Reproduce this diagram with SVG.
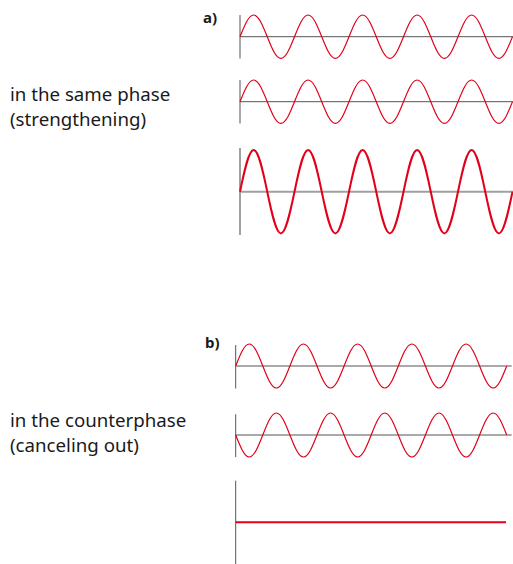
<svg xmlns="http://www.w3.org/2000/svg" width="513" height="564" viewBox="0 0 513 564">
<style>
.lbl{font-family:"Noto Sans","Open Sans",sans-serif;font-size:18.7px;fill:#1a1a1a}
.tag{font-family:"Noto Sans","Open Sans",sans-serif;font-size:15px;font-weight:bold;fill:#1a1a1a}
.ax{stroke:#555;stroke-width:1;fill:none}
.axt{stroke:#a0a0a0;stroke-width:2;fill:none}
.w{stroke:#e2001a;stroke-width:1.2;fill:none}
.wt{stroke:#e2001a;stroke-width:2;fill:none}
</style>
<rect width="513" height="564" fill="#fff"/>
<g id="labels">
<text class="tag" x="203" y="23">a)</text>
<text class="lbl" x="10" y="101">in the same phase</text>
<text class="lbl" x="10" y="126">(strengthening)</text>
<text class="tag" x="205" y="348">b)</text>
<text class="lbl" x="10" y="427">in the counterphase</text>
<text class="lbl" x="10" y="452">(canceling out)</text>
</g>
<g id="wave-a1">
<path class="ax" d="M240,15V58.5M240,36.7H513"/>
<path class="w" d="M240,36.7c4.444,-11.12 8.694,-21.7 13.625,-21.7s9.181,10.58 13.625,21.7s8.694,21.7 13.625,21.7s9.181,-10.58 13.625,-21.7s8.694,-21.7 13.625,-21.7s9.181,10.58 13.625,21.7s8.694,21.7 13.625,21.7s9.181,-10.58 13.625,-21.7s8.694,-21.7 13.625,-21.7s9.181,10.58 13.625,21.7s8.694,21.7 13.625,21.7s9.181,-10.58 13.625,-21.7s8.694,-21.7 13.625,-21.7s9.181,10.58 13.625,21.7s8.694,21.7 13.625,21.7s9.181,-10.58 13.625,-21.7s8.694,-21.7 13.625,-21.7s9.181,10.58 13.625,21.7s8.694,21.7 13.625,21.7s9.181,-10.58 13.625,-21.7"/>
</g>
<g id="wave-a2">
<path class="ax" d="M240,80V123.5M240,101.7H513"/>
<path class="w" d="M240,101.7c4.444,-11.12 8.694,-21.7 13.625,-21.7s9.181,10.58 13.625,21.7s8.694,21.7 13.625,21.7s9.181,-10.58 13.625,-21.7s8.694,-21.7 13.625,-21.7s9.181,10.58 13.625,21.7s8.694,21.7 13.625,21.7s9.181,-10.58 13.625,-21.7s8.694,-21.7 13.625,-21.7s9.181,10.58 13.625,21.7s8.694,21.7 13.625,21.7s9.181,-10.58 13.625,-21.7s8.694,-21.7 13.625,-21.7s9.181,10.58 13.625,21.7s8.694,21.7 13.625,21.7s9.181,-10.58 13.625,-21.7s8.694,-21.7 13.625,-21.7s9.181,10.58 13.625,21.7s8.694,21.7 13.625,21.7s9.181,-10.58 13.625,-21.7"/>
</g>
<g id="wave-a3">
<path class="axt" d="M240,148V235M240,191.7H513"/>
<path class="wt" d="M240,191.7c4.444,-21.36 8.694,-41.7 13.625,-41.7s9.181,20.34 13.625,41.7s8.694,41.7 13.625,41.7s9.181,-20.34 13.625,-41.7s8.694,-41.7 13.625,-41.7s9.181,20.34 13.625,41.7s8.694,41.7 13.625,41.7s9.181,-20.34 13.625,-41.7s8.694,-41.7 13.625,-41.7s9.181,20.34 13.625,41.7s8.694,41.7 13.625,41.7s9.181,-20.34 13.625,-41.7s8.694,-41.7 13.625,-41.7s9.181,20.34 13.625,41.7s8.694,41.7 13.625,41.7s9.181,-20.34 13.625,-41.7s8.694,-41.7 13.625,-41.7s9.181,20.34 13.625,41.7s8.694,41.7 13.625,41.7s9.181,-20.34 13.625,-41.7"/>
</g>
<g id="wave-b1">
<path class="ax" d="M235.7,345V388.5M235.7,366H511.7"/>
<path class="w" d="M235.7,366c4.419,-11.27 8.646,-22 13.55,-22s9.131,10.73 13.55,22s8.646,22 13.55,22s9.131,-10.73 13.55,-22s8.646,-22 13.55,-22s9.131,10.73 13.55,22s8.646,22 13.55,22s9.131,-10.73 13.55,-22s8.646,-22 13.55,-22s9.131,10.73 13.55,22s8.646,22 13.55,22s9.131,-10.73 13.55,-22s8.646,-22 13.55,-22s9.131,10.73 13.55,22s8.646,22 13.55,22s9.131,-10.73 13.55,-22s8.646,-22 13.55,-22s9.131,10.73 13.55,22s8.646,22 13.55,22s9.131,-10.73 13.55,-22"/>
</g>
<g id="wave-b2">
<path class="ax" d="M235.7,414.3V457M235.7,435H511.7"/>
<path class="w" d="M235.7,435c4.419,11.27 8.646,22 13.55,22s9.131,-10.73 13.55,-22s8.646,-22 13.55,-22s9.131,10.73 13.55,22s8.646,22 13.55,22s9.131,-10.73 13.55,-22s8.646,-22 13.55,-22s9.131,10.73 13.55,22s8.646,22 13.55,22s9.131,-10.73 13.55,-22s8.646,-22 13.55,-22s9.131,10.73 13.55,22s8.646,22 13.55,22s9.131,-10.73 13.55,-22s8.646,-22 13.55,-22s9.131,10.73 13.55,22s8.646,22 13.55,22s9.131,-10.73 13.55,-22s8.646,-22 13.55,-22s9.131,10.73 13.55,22"/>
</g>
<g id="wave-b3">
<path class="ax" d="M235.7,480.7V564"/>
<path class="wt" d="M235.7,522.3H506"/>
</g>
</svg>
